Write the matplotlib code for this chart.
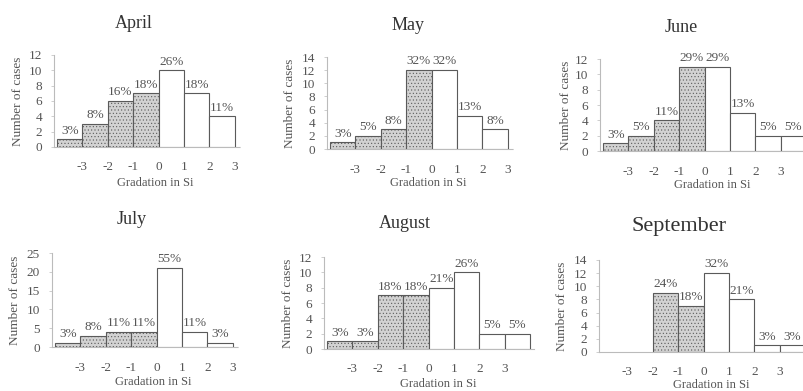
import matplotlib.pyplot as plt
import numpy as np

plt.rcParams['font.family'] = ['Liberation Serif', 'DejaVu Serif']
plt.rcParams['hatch.color'] = '#adadad'
plt.rcParams['hatch.linewidth'] = 0.4

months = ['April', 'May', 'June', 'July', 'August', 'September']

april_counts = [1, 3, 6, 7, 10, 7, 4]
april_pct = ['3%', '8%', '16%', '18%', '26%', '18%', '11%']
may_counts = [1, 2, 3, 12, 12, 5, 3]
may_pct = ['3%', '5%', '8%', '32%', '32%', '13%', '8%']
june_counts = [1, 2, 4, 11, 11, 5, 2, 2]
june_pct = ['3%', '5%', '11%', '29%', '29%', '13%', '5%', '5%']
july_counts = [1, 3, 4, 4, 21, 4, 1]
july_pct = ['3%', '8%', '11%', '11%', '55%', '11%', '3%']
august_counts = [1, 1, 7, 7, 8, 10, 2, 2]
august_pct = ['3%', '3%', '18%', '18%', '21%', '26%', '5%', '5%']
september_counts = [9, 7, 12, 8, 1, 1]
september_pct = ['24%', '18%', '32%', '21%', '3%', '3%']

# first bin edge of each month
first_edge = [-4, -4, -4, -4, -4, -2]
y_max = [12, 14, 12, 25, 12, 14]
y_step = [2, 2, 2, 5, 2, 2]
x_ticks = [-3, -2, -1, 0, 1, 2, 3]

all_counts = [april_counts, may_counts, june_counts, july_counts, august_counts, september_counts]
all_pct = [april_pct, may_pct, june_pct, july_pct, august_pct, september_pct]

W, H = 804, 391
UNIT = 25.4  # pixels per gradation step

# panel layout in pixels: x of -4, y of zero, y of top, right xlim,
# title (x, y, size), ylabel x, tick label y, xlabel y
panels = [
    dict(x4=57, y0=147, yt=55, xr=3.2, title=(134, 23, 13), ylab=18, tick_y=167, xlab_y=183),
    dict(x4=330, y0=149, yt=57, xr=3.2, title=(408, 25, 13), ylab=290, tick_y=170, xlab_y=183),
    dict(x4=603, y0=151, yt=59, xr=4.1, title=(681, 28, 13), ylab=566, tick_y=172, xlab_y=185),
    dict(x4=55, y0=347, yt=253, xr=3.2, title=(132, 220, 13), ylab=15, tick_y=368, xlab_y=382),
    dict(x4=327, y0=349, yt=257, xr=4.2, title=(405, 224, 13), ylab=288, tick_y=369, xlab_y=384),
    dict(x4=602, y0=352, yt=260, xr=4.1, title=(679, 227, 16), ylab=562, tick_y=372, xlab_y=385),
]

fig = plt.figure(figsize=(W / 100, H / 100), dpi=100)
fig.patch.set_facecolor('white')

text_col = '#555555'

for i, p in enumerate(panels):
    xl = -4.1
    left_px = p['x4'] + (xl + 4) * UNIT
    right_px = p['x4'] + (p['xr'] + 4) * UNIT
    ax = fig.add_axes([left_px / W, 1 - p['y0'] / H,
                       (right_px - left_px) / W, (p['y0'] - p['yt']) / H])
    ax.set_xlim(xl, p['xr'])
    ax.set_ylim(0, y_max[i])

    counts = all_counts[i]
    edges = first_edge[i] + np.arange(len(counts))
    for e, c, lab in zip(edges, counts, all_pct[i]):
        if e < 0:
            ax.bar(e, c, width=1, align='edge', facecolor='#d2d2d2',
                   edgecolor='#5a5a5a', linewidth=0.8, hatch='.....', zorder=3)
        else:
            ax.bar(e, c, width=1, align='edge', facecolor='white',
                   edgecolor='#5a5a5a', linewidth=0.8, zorder=3)
        ax.annotate(lab, (e + 0.5, c), xytext=(0, 2), textcoords='offset points',
                    ha='center', va='bottom', fontsize=9.5, color=text_col)

    for s in ['top', 'right']:
        ax.spines[s].set_visible(False)
    for s in ['left', 'bottom']:
        ax.spines[s].set_color('#bbbbbb')
        ax.spines[s].set_linestyle((0, (1, 1)))
        ax.spines[s].set_linewidth(0.8)

    ax.set_yticks(np.arange(0, y_max[i] + 1, y_step[i]))
    ax.tick_params(axis='y', length=2, width=0.5, color='#bbbbbb', pad=7,
                   labelsize=9.5, labelcolor=text_col)
    ax.set_xticks(x_ticks)
    ax.set_xticklabels([str(t) for t in x_ticks])
    ax.tick_params(axis='x', length=0, labelsize=9.5, labelcolor=text_col,
                   pad=(p['tick_y'] - p['y0']) * 0.72 - 4.5)

    # labels placed in pixel positions
    tx, ty, ts = p['title']
    fig.text(tx / W, 1 - ty / H, months[i], ha='center', va='center',
             fontsize=ts, color='#333333')
    fig.text(p['ylab'] / W, 1 - (p['y0'] + p['yt']) / 2 / H, 'Number of cases',
             rotation=90, ha='center', va='center', fontsize=9.5, color=text_col)
    fig.text((left_px + right_px) / 2 / W + 0.01, 1 - p['xlab_y'] / H, 'Gradation in Si',
             ha='center', va='center', fontsize=9, color=text_col)

plt.savefig('out.png', dpi=100, facecolor='white')
